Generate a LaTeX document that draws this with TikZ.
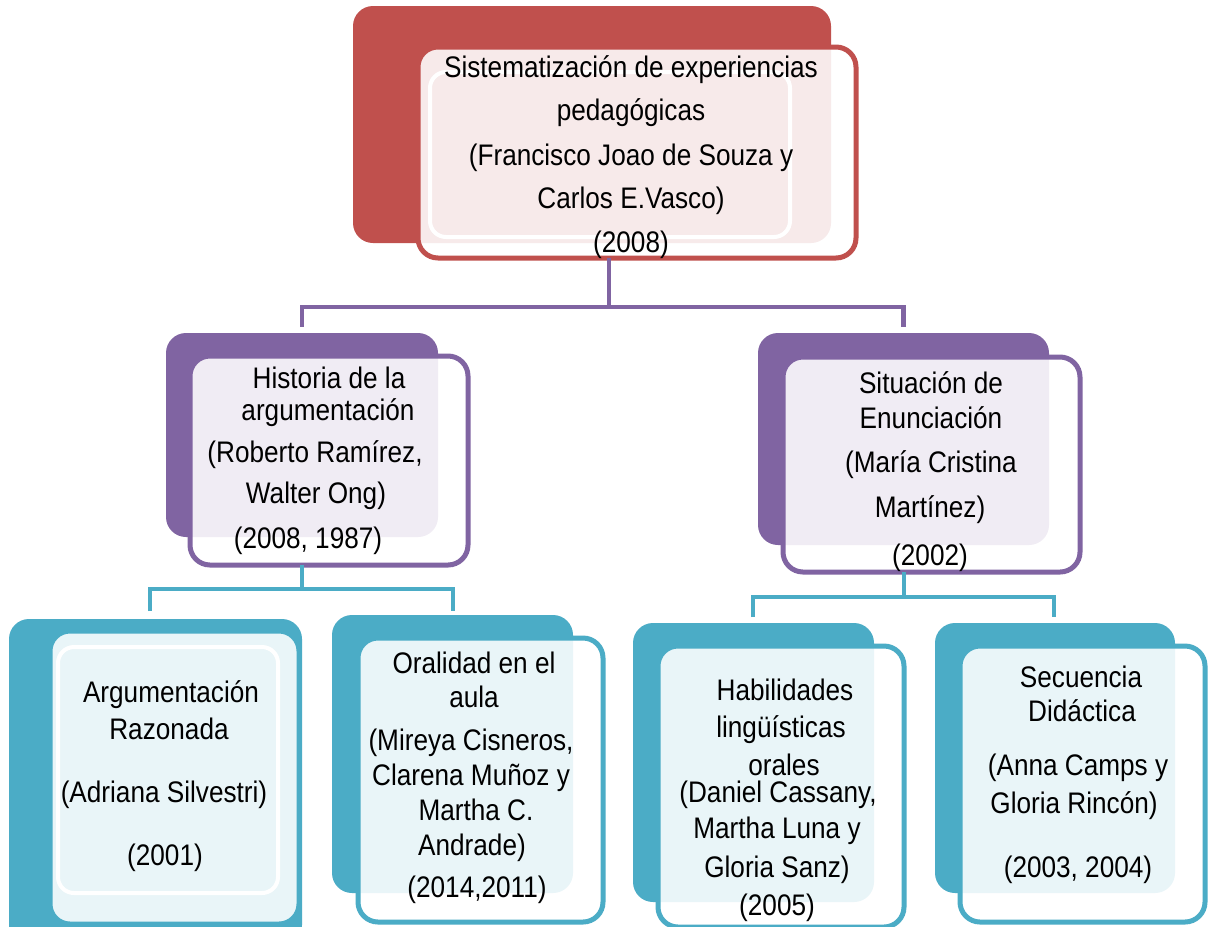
\documentclass[tikz,border=0pt]{standalone}
\usepackage{fontspec}
\setmainfont{Liberation Sans}[FakeStretch=0.88]
\definecolor{cred}{HTML}{C0504D}
\definecolor{cpur}{HTML}{8064A2}
\definecolor{cteal}{HTML}{4BACC6}
\newcommand\boxat[6]{%
  \node[#2, minimum width={(#5-#3)*0.75pt}, minimum height={(#6-#4)*0.75pt}] (#1) at ({(#3+#5)/2},{(#4+#6)/2}) {};}
\newcommand\tintin[3]{%
  \begin{scope}
    \clip[rounded corners=15pt] (#1.south west) rectangle (#1.north east);
    \fill[#3!12!white, rounded corners=15pt] (#2.south west) rectangle (#2.north east);
  \end{scope}
  \draw[rim, #3] (#1.south west) rectangle (#1.north east);}
\tikzset{
  backbox/.style={rectangle, rounded corners=15pt, inner sep=0pt, outer sep=0pt},
  frontbox/.style={rectangle, rounded corners=15pt, inner sep=0pt, outer sep=0pt, fill=white},
  rim/.style={line width=3.75pt, rounded corners=15pt},
  halo/.style={draw=white, line width=3pt, rounded corners=12pt},
  txt/.style={anchor=base, inner sep=0pt, font=\fontsize{22.3pt}{26pt}\selectfont, text=black},
  pconn/.style={draw=cpur, line width=3.4pt},
  tconn/.style={draw=cteal, line width=3.4pt},
}
\begin{document}
\begin{tikzpicture}[x=0.75pt,y=-0.75pt]
\clip (0,0) rectangle (1210,926);
\fill[white] (0,0) rectangle (1210,926);

% ---- top box
\boxat{topB}{backbox, fill=cred}{353}{6}{831}{243}
\boxat{topF}{frontbox}{418}{47}{856}{258}
\tintin{topF}{topB}{cred}
\draw[halo] (430,72) rectangle (790,237);

% ---- middle boxes
\boxat{hisB}{backbox, fill=cpur}{166}{333}{438}{537}
\boxat{hisF}{frontbox}{190}{356}{468}{565}
\tintin{hisF}{hisB}{cpur}

\boxat{sitB}{backbox, fill=cpur}{758}{333}{1049}{545}
\boxat{sitF}{frontbox}{783}{357}{1080}{572}
\tintin{sitF}{sitB}{cpur}

% ---- bottom boxes
\boxat{argB}{backbox, fill=cteal}{9}{619}{302}{945}
\boxat{argF}{frontbox}{50}{631}{299}{924}
\tintin{argF}{argB}{cteal}
\draw[halo] (58,647) rectangle (278,893);

\boxat{oraB}{backbox, fill=cteal}{332}{615}{573}{893}
\boxat{oraF}{frontbox}{358}{638}{603}{922}
\tintin{oraF}{oraB}{cteal}

\boxat{habB}{backbox, fill=cteal}{633}{623}{874}{902}
\boxat{habF}{frontbox}{658}{646}{904}{927}
\tintin{habF}{habB}{cteal}

\boxat{secB}{backbox, fill=cteal}{935}{623}{1175}{893}
\boxat{secF}{frontbox}{960}{646}{1205}{922}
\tintin{secF}{secB}{cteal}

% ---- connectors
\coordinate (j0) at (609,307);
\draw[pconn] (topF.south -| j0) -- (j0);
\draw[pconn, shorten >=4.5pt] (j0) -| (hisB.north);
\draw[pconn, shorten >=4.5pt] (j0) -| (sitB.north);

\coordinate (j1) at (302,589);
\coordinate (a1) at (150,611);
\coordinate (a2) at (453,611);
\draw[tconn] (hisF.south -| j1) -- (j1);
\draw[tconn] (a1) |- (j1) -| (a2);

\coordinate (j2) at (904,597);
\coordinate (a3) at (753,617);
\coordinate (a4) at (1054,617);
\draw[tconn] (sitF.south -| j2) -- (j2);
\draw[tconn] (a3) |- (j2) -| (a4);

% ---- texts
\node[txt] (top1) at (631,77) {Sistematización de experiencias};
\node[txt] (top2) at (631,120) {pedagógicas};
\node[txt] (top3) at (631,165) {(Francisco Joao de Souza y};
\node[txt] (top4) at (631,208) {Carlos E.Vasco)};
\node[txt] (top5) at (631,252) {(2008)};

\node[txt] (his1) at (329,388) {Historia de la};
\node[txt] (his2) at (328,420) {argumentación};
\node[txt] (his3) at (315,462) {(Roberto Ramírez,};
\node[txt] (his4) at (316,503) {Walter Ong)};
\node[txt] (his5) at (308,548) {(2008, 1987)};

\node[txt] (sit1) at (931,393) {Situación de};
\node[txt] (sit2) at (931,428) {Enunciación};
\node[txt] (sit3) at (931,472) {(María Cristina};
\node[txt] (sit4) at (930,517) {Martínez)};
\node[txt] (sit5) at (930,565) {(2002)};

\node[txt] (arg1) at (171,702) {Argumentación};
\node[txt] (arg2) at (169,739) {Razonada};
\node[txt] (arg3) at (164,802) {(Adriana Silvestri)};
\node[txt] (arg4) at (165,865) {(2001)};

\node[txt] (ora1) at (474,673) {Oralidad en el};
\node[txt] (ora2) at (474,707) {aula};
\node[txt] (ora3) at (471,750) {(Mireya Cisneros,};
\node[txt] (ora4) at (471,785) {Clarena Muñoz y};
\node[txt] (ora5) at (476,820) {Martha C.};
\node[txt] (ora6) at (472,855) {Andrade)};
\node[txt] (ora7) at (477,897) {(2014,2011)};

\node[txt] (hab1) at (785,700) {Habilidades};
\node[txt] (hab2) at (781,737) {lingüísticas};
\node[txt] (hab3) at (784,775) {orales};
\node[txt] (hab4) at (778,802) {(Daniel Cassany,};
\node[txt] (hab5) at (777,838) {Martha Luna y};
\node[txt] (hab6) at (777,877) {Gloria Sanz)};
\node[txt] (hab7) at (777,915) {(2005)};

\node[txt] (sec1) at (1081,687) {Secuencia};
\node[txt] (sec2) at (1082,721) {Didáctica};
\node[txt] (sec3) at (1078,775) {(Anna Camps y};
\node[txt] (sec4) at (1074,813) {Gloria Rincón)};
\node[txt] (sec5) at (1078,877) {(2003, 2004)};
\end{tikzpicture}
\end{document}
